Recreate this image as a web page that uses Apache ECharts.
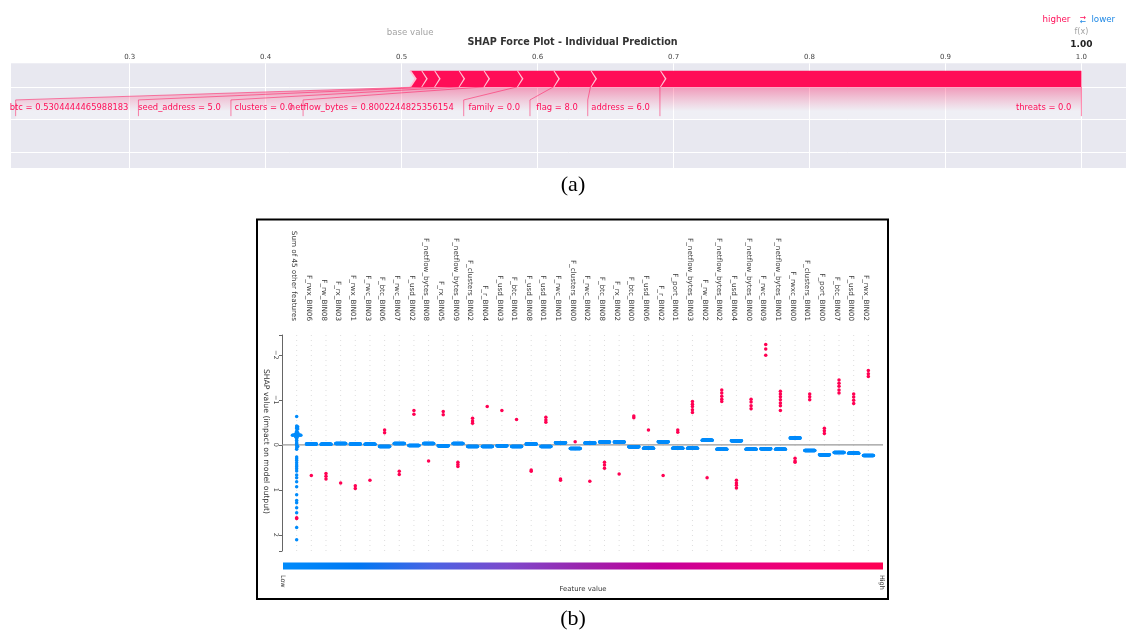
<!DOCTYPE html>
<html>
<head>
<meta charset="utf-8">
<title>SHAP force plot and beeswarm summary</title>
<script src="https://cdn.jsdelivr.net/npm/echarts@6/dist/echarts.min.js"></script>
<style>
  html, body { margin: 0; padding: 0; background: #ffffff; }
  #chart { width: 1129px; height: 633px; }
</style>
</head>
<body>
<div id="chart"></div>
<script>
// ---------- (a) force plot of one prediction ----------
const outputValue = 1.00;
const forceNames  = ['threats', 'address', 'flag', 'family', 'netflow_bytes', 'clusters', 'seed_address', 'btc', 'other'];
const forceInputs = ['0.0', '6.0', '8.0', '0.0', '0.8002244825356154', '0.0', '5.0', '0.5304444465988183', ''];
const forceEffects = [0.3100, 0.0511, 0.0273, 0.0268, 0.0246, 0.0183, 0.0180, 0.0095, 0.0081];
const minLabelShare = 0.018;   // contributions below this share of the total get no label

// ---------- (b) beeswarm of SHAP values ----------
const featureNames = [
  'Sum of 45 other features', 'F_rwx_BIN06', 'F_rw_BIN08', 'F_rx_BIN03', 'F_rwx_BIN01', 'F_rwc_BIN03',
  'F_btc_BIN06', 'F_rwc_BIN07', 'F_usd_BIN02', 'F_netflow_bytes_BIN08', 'F_rx_BIN05',
  'F_netflow_bytes_BIN09', 'F_clusters_BIN02', 'F_r_BIN04', 'F_usd_BIN03', 'F_btc_BIN01',
  'F_usd_BIN08', 'F_usd_BIN01', 'F_rwc_BIN01', 'F_clusters_BIN00', 'F_rwc_BIN02', 'F_btc_BIN08',
  'F_rx_BIN02', 'F_btc_BIN00', 'F_usd_BIN06', 'F_r_BIN02', 'F_port_BIN01', 'F_netflow_bytes_BIN03',
  'F_rw_BIN02', 'F_netflow_bytes_BIN02', 'F_usd_BIN04', 'F_netflow_bytes_BIN00', 'F_rwc_BIN09',
  'F_netflow_bytes_BIN01', 'F_rwxc_BIN00', 'F_clusters_BIN01', 'F_port_BIN00', 'F_btc_BIN07',
  'F_usd_BIN00', 'F_rwx_BIN02'
];

// "Sum of 45 other features": SHAP values of low / high feature-value samples
const sumOtherLow = [
  -0.63, -0.42, -0.40, -0.38, -0.36, -0.35, -0.30, -0.28, -0.27, -0.25, -0.25, -0.24,
  -0.23, -0.23, -0.23, -0.22, -0.22, -0.22, -0.22, -0.21, -0.21, -0.20, -0.19, -0.18,
  -0.16, -0.14, -0.10, -0.06, -0.03, 0.00, 0.02, 0.04, 0.07, 0.10, 0.27, 0.31, 0.35,
  0.40, 0.45, 0.49, 0.53, 0.58, 0.67, 0.73, 0.82, 0.93, 1.11, 1.24, 1.29, 1.40, 1.51,
  1.84, 2.11
];
const sumOtherHigh = [1.62, 1.64];
const sampleCount = sumOtherLow.length + sumOtherHigh.length;

// binned features: every low (0) sample shares one SHAP value; high (1) samples listed
const lowShap = [null, -0.02, -0.015, -0.03, -0.02, -0.015, 0.04, -0.03, 0.015, -0.03, 0.02,
  -0.03, 0.04, 0.04, 0.02, 0.04, -0.02, 0.04, -0.045, 0.08, -0.04, -0.06, -0.06, 0.045, 0.075,
  -0.07, 0.075, 0.075, -0.10, 0.10, -0.09, 0.10, 0.09, 0.10, -0.15, 0.125, 0.22, 0.17, 0.19, 0.24];
const highShap = [
  [], [0.68], [0.64, 0.70, 0.76], [0.85], [0.91, 0.97], [0.79], [-0.33, -0.27], [0.59, 0.66],
  [-0.76, -0.68], [0.36], [-0.74, -0.67], [0.39, 0.44, 0.48], [-0.59, -0.53, -0.48], [-0.85],
  [-0.76], [-0.56], [0.56, 0.59], [-0.61, -0.55, -0.50], [0.76, 0.79], [-0.07], [0.81],
  [0.39, 0.45, 0.52], [0.65], [-0.64, -0.60], [-0.33], [0.68], [-0.33, -0.28],
  [-0.96, -0.90, -0.85, -0.78, -0.72], [0.73], [-1.22, -1.15, -1.08, -1.01, -0.96],
  [0.79, 0.85, 0.90, 0.96], [-1.01, -0.95, -0.87, -0.80], [-2.23, -2.13, -1.99],
  [-1.19, -1.13, -1.07, -1.00, -0.93, -0.87, -0.76], [0.30, 0.36, 0.39], [-1.13, -1.07, -1.00],
  [-0.37, -0.31, -0.25], [-1.44, -1.37, -1.30, -1.22, -1.15], [-1.13, -1.06, -0.99, -0.92],
  [-1.65, -1.58, -1.52]
];

// feature-value colour scale, low -> high
const valueColors = ['#008bfb', '#0078f3', '#4b63e3', '#7d49cc', '#9b24ad', '#c2009c', '#e00086', '#f5006d', '#ff0052'];

// ---------- helpers ----------
const SANS = '"DejaVu Sans", sans-serif';
const RED = '#ff0d57', BLUE = '#1e88e5';

const measureCtx = document.createElement('canvas').getContext('2d');
function textWidth(txt, size) {
  measureCtx.font = size + 'px "DejaVu Sans"';
  return measureCtx.measureText(txt).width;
}

// stack the contributions leftwards from f(x)
const segments = [];
let edge = outputValue;
forceEffects.forEach((eff, k) => { segments.push([edge - eff, edge, k]); edge -= eff; });
const baseValue = edge;

// beeswarm: points falling in the same value bin fan out across the row
function swarm(vals, rowHeight) {
  const lo = Math.min(...vals), hi = Math.max(...vals);
  const quant = vals.map(v => Math.round(100 * (v - lo) / (hi - lo + 1e-8)));
  const order = vals.map((_, k) => k).sort((a, b) => quant[a] - quant[b] || a - b);
  const ys = new Array(vals.length).fill(0);
  let layer = 0, last = -1;
  order.forEach(k => {
    if (quant[k] !== last) layer = 0;
    ys[k] = Math.ceil(layer / 2) * ((layer % 2) * 2 - 1);
    layer++;
    last = quant[k];
  });
  const m = Math.max(...ys.map(y => y + 1));
  return ys.map(y => y * 0.9 * (rowHeight / m));
}

const swarmData = [];
featureNames.forEach((name, i) => {
  let shaps, levels;
  if (i === 0) {
    shaps = sumOtherLow.concat(sumOtherHigh);
    levels = sumOtherLow.map(() => 0).concat(sumOtherHigh.map(() => 1));
  } else {
    const nLow = sampleCount - highShap[i].length;
    shaps = new Array(nLow).fill(lowShap[i]).concat(highShap[i]);
    levels = new Array(nLow).fill(0).concat(highShap[i].map(() => 1));
  }
  const off = swarm(shaps, 0.4);
  shaps.forEach((s, k) => swarmData.push([i + off[k], s, levels[k]]));
});

// ---------- force plot drawing ----------
function renderSegment(params, api) {
  const lo = api.value(0), hi = api.value(1), k = api.value(2);
  const yB = api.coord([lo, 0])[1], yT = api.coord([lo, 0.1])[1], yM = (yB + yT) / 2;
  const xl = api.coord([lo, 0])[0], xr = api.coord([hi, 0])[0];
  const ind = 5.5;
  const pts = k === 0
    ? [[xl, yB], [xr, yB], [xr, yT], [xl, yT], [xl + ind, yM]]
    : [[xl, yB], [xr, yB], [xr + ind * 0.9, yM], [xr, yT], [xl, yT], [xl + ind * 0.9, yM]];
  return {
    type: 'group',
    children: [
      { type: 'polygon', shape: { points: pts }, style: { fill: RED } },
      { type: 'polyline', shape: { points: [[xl, yB], [xl + ind, yM], [xl, yT]] },
        style: { stroke: '#ffc3d5', lineWidth: 1.8, fill: null } }
    ]
  };
}

function renderForceLabels(params, api) {
  const X = v => api.coord([v, 0])[0];
  const Y = v => api.coord([outputValue, v])[1];
  const yBar = Y(0), ySlant = Y(-0.08), yEnd = Y(-0.18), yText = Y(-0.13), yShade = Y(-0.2);
  const xOut = X(outputValue);
  const size = 8.4;
  const pinkLine = { stroke: 'rgba(255,13,87,0.5)', lineWidth: 1, fill: null };
  const lines = [[[xOut, yBar], [xOut, yEnd]]];
  const texts = [];
  const total = outputValue - baseValue;
  let start = xOut, boxEnd = xOut, pre = outputValue;
  for (let k = 0; k < forceNames.length; k++) {
    if (forceEffects[k] / total < minLabelShare) break;
    const val = pre - forceEffects[k];
    const label = forceNames[k] + ' = ' + forceInputs[k];
    const right = start - 10;
    const left = right - (textWidth(label, size) * 0.84 + 13);
    texts.push({ type: 'text', x: right, y: yText,
      style: { text: label, fontSize: size, fontFamily: SANS, fill: RED, align: 'right', verticalAlign: 'middle' } });
    if (left > X(val)) {
      lines.push([[X(val), yBar], [X(val), yEnd]]);
      start = boxEnd = X(val);
    } else {
      lines.push([[X(val), yBar], [left, ySlant], [left, yEnd]]);
      start = boxEnd = left;
    }
    pre = val;
  }
  const shade = {
    type: 'polygon',
    shape: { points: [[xOut, yBar], [X(pre), yBar], [boxEnd, ySlant], [boxEnd, yShade], [xOut, yShade]] },
    style: { fill: { type: 'linear', x: 0, y: 0, x2: 0, y2: 1, colorStops: [
      { offset: 0, color: 'rgba(255,13,87,0.36)' },
      { offset: 0.75, color: 'rgba(255,255,255,0.32)' },
      { offset: 1, color: 'rgba(255,255,255,0.32)' } ] } }
  };
  const xBase = X(baseValue);
  const head = [
    { type: 'text', x: xBase, y: 32.3, style: { text: 'base value', fontSize: 8.6, fontFamily: SANS, fill: '#a3a3a3', align: 'center', verticalAlign: 'middle' } },
    { type: 'text', x: xOut, y: 31.8, style: { text: 'f(x)', fontSize: 8, fontFamily: SANS, fill: '#a3a3a3', align: 'center', verticalAlign: 'middle' } },
    { type: 'text', x: xOut, y: 44.3, style: { text: outputValue.toFixed(2), fontSize: 9, fontWeight: 'bold', fontFamily: SANS, fill: '#222', align: 'center', verticalAlign: 'middle' } },
    { type: 'text', x: xOut - 11, y: 20, style: { text: 'higher', fontSize: 8.7, fontFamily: SANS, fill: RED, align: 'right', verticalAlign: 'middle' } },
    { type: 'text', x: xOut + 10, y: 20, style: { text: 'lower', fontSize: 8.7, fontFamily: SANS, fill: BLUE, align: 'left', verticalAlign: 'middle' } },
    { type: 'text', x: xOut + 1.5, y: 17.6, style: { text: '\u2192', fontSize: 7.5, fontFamily: SANS, fill: RED, align: 'center', verticalAlign: 'middle' } },
    { type: 'text', x: xOut + 1.5, y: 21.8, style: { text: '\u2190', fontSize: 7.5, fontFamily: SANS, fill: BLUE, align: 'center', verticalAlign: 'middle' } }
  ];
  return {
    type: 'group',
    children: [shade]
      .concat(lines.map(p => ({ type: 'polyline', shape: { points: p }, style: pinkLine })))
      .concat(texts, head)
  };
}

// ---------- beeswarm decorations ----------
const swarmYMin = -2.44, swarmYMax = 2.36;
function renderRowGuide(params, api) {
  const i = api.value(0);
  const a = api.coord([i, swarmYMin]), b = api.coord([i, swarmYMax]);
  return { type: 'line', shape: { x1: a[0], y1: a[1], x2: b[0], y2: b[1] },
    style: { stroke: '#cfcfcf', lineWidth: 0.7, lineDash: [1, 4] } };
}
function renderZeroLine(params, api) {
  const a = api.coord([-1, 0]), b = api.coord([featureNames.length, 0]);
  return { type: 'line', shape: { x1: a[0], y1: a[1], x2: b[0], y2: b[1] },
    style: { stroke: '#999999', lineWidth: 1.3 } };
}

const isTenth = v => Math.abs(v * 10 - Math.round(v * 10)) < 1e-6;
const minusFmt = v => Number.isInteger(v) ? (v < 0 ? '\u2212' + (-v) : String(v)) : '';

const option = {
  animation: false,
  backgroundColor: '#ffffff',
  grid: [
    { left: 11, top: 63.3, width: 1118, height: 104.7, show: true, backgroundColor: '#e8e8f0', borderWidth: 0 },
    { left: 282, top: 335, width: 601, height: 216 },
    { left: 279.5, top: 335, width: 601, height: 216 }
  ],
  xAxis: [
    { gridIndex: 0, type: 'value', position: 'top', min: 0.2127, max: 1.0328, minInterval: 0.1, maxInterval: 0.1,
      axisLine: { show: false }, axisTick: { show: false },
      axisLabel: { fontSize: 7, fontFamily: SANS, color: '#444', margin: 3,
        formatter: v => (isTenth(v) ? v.toFixed(1) : '') },
      splitLine: { show: true, showMinLine: false, showMaxLine: false, lineStyle: { color: '#ffffff', width: 1 } } },
    { gridIndex: 1, type: 'value', min: -1, max: featureNames.length, show: false },
    { gridIndex: 2, type: 'value', position: 'top', min: -1, max: featureNames.length, minInterval: 1, maxInterval: 1,
      axisLine: { show: false }, axisTick: { show: false }, splitLine: { show: false },
      axisLabel: { rotate: -90, margin: 14, fontSize: 7.2, fontFamily: SANS, color: '#3a3a3a',
        align: 'right', verticalAlign: 'middle',
        formatter: v => (Number.isInteger(v) && featureNames[v]) || '' } }
  ],
  yAxis: [
    { gridIndex: 0, type: 'value', min: -0.5, max: 0.146, minInterval: 0.2, maxInterval: 0.2,
      axisLine: { show: false }, axisTick: { show: false }, axisLabel: { show: false },
      splitLine: { show: true, showMinLine: false, showMaxLine: false, lineStyle: { color: '#ffffff', width: 1 } } },
    { gridIndex: 1, type: 'value', inverse: true, min: swarmYMin, max: swarmYMax, minInterval: 1, maxInterval: 1,
      axisLine: { show: true, onZero: false, lineStyle: { color: '#666666', width: 1 } },
      axisTick: { show: true, length: 3, lineStyle: { color: '#666666' } },
      axisLabel: { rotate: -90, margin: 3, fontSize: 6.4, fontFamily: SANS, color: '#444',
        align: 'center', verticalAlign: 'top', formatter: minusFmt },
      splitLine: { show: false } },
    { gridIndex: 2, type: 'value', show: false, min: 0, max: 1 }
  ],
  visualMap: {
    show: false, type: 'continuous', seriesIndex: 4, dimension: 2, min: 0, max: 1,
    inRange: { color: valueColors }
  },
  series: [
    { type: 'custom', xAxisIndex: 0, yAxisIndex: 0, renderItem: renderSegment, data: segments, z: 3, silent: true },
    { type: 'custom', xAxisIndex: 0, yAxisIndex: 0, renderItem: renderForceLabels, data: [[outputValue, 0]], z: 4, silent: true },
    { type: 'custom', xAxisIndex: 1, yAxisIndex: 1, renderItem: renderRowGuide,
      data: featureNames.map((_, i) => [i]), z: 1, silent: true },
    { type: 'custom', xAxisIndex: 1, yAxisIndex: 1, renderItem: renderZeroLine, data: [[0]], z: 1, silent: true },
    { type: 'scatter', xAxisIndex: 1, yAxisIndex: 1, data: swarmData, symbol: 'circle', symbolSize: 3.5,
      itemStyle: { opacity: 1 }, z: 3, silent: true }
  ],
  graphic: [
    { type: 'text', x: 572.5, y: 42.5, silent: true,
      style: { text: 'SHAP Force Plot - Individual Prediction', fontSize: 9.6, fontWeight: 'bold', fontFamily: SANS,
        fill: '#333', align: 'center', verticalAlign: 'middle' } },
    { type: 'text', x: 573, y: 185, silent: true,
      style: { text: '(a)', fontSize: 22, fontFamily: '"Liberation Serif", serif', fill: '#000', align: 'center', verticalAlign: 'middle' } },
    { type: 'rect', silent: true, shape: { x: 257, y: 219.5, width: 631, height: 379.5 },
      style: { fill: 'transparent', stroke: '#000', lineWidth: 2 } },
    { type: 'text', x: 266, y: 441.5, rotation: -Math.PI / 2, silent: true,
      style: { text: 'SHAP value (impact on model output)', fontSize: 7.7, fontFamily: SANS, fill: '#333',
        align: 'center', verticalAlign: 'middle' } },
    { type: 'rect', silent: true, shape: { x: 283, y: 562.5, width: 600, height: 7 },
      style: { fill: { type: 'linear', x: 0, y: 0, x2: 1, y2: 0,
        colorStops: valueColors.map((c, k) => ({ offset: k / (valueColors.length - 1), color: c })) } } },
    { type: 'text', x: 283, y: 575, rotation: -Math.PI / 2, silent: true,
      style: { text: 'Low', fontSize: 6.4, fontFamily: SANS, fill: '#333', align: 'left', verticalAlign: 'middle' } },
    { type: 'text', x: 882, y: 575, rotation: -Math.PI / 2, silent: true,
      style: { text: 'High', fontSize: 6.4, fontFamily: SANS, fill: '#333', align: 'left', verticalAlign: 'middle' } },
    { type: 'text', x: 583, y: 589, silent: true,
      style: { text: 'Feature value', fontSize: 6.9, fontFamily: SANS, fill: '#333', align: 'center', verticalAlign: 'middle' } },
    { type: 'text', x: 573, y: 619, silent: true,
      style: { text: '(b)', fontSize: 22, fontFamily: '"Liberation Serif", serif', fill: '#000', align: 'center', verticalAlign: 'middle' } }
  ]
};

const chart = echarts.init(document.getElementById('chart'), null, { renderer: 'canvas' });
chart.setOption(option);
</script>
</body>
</html>
